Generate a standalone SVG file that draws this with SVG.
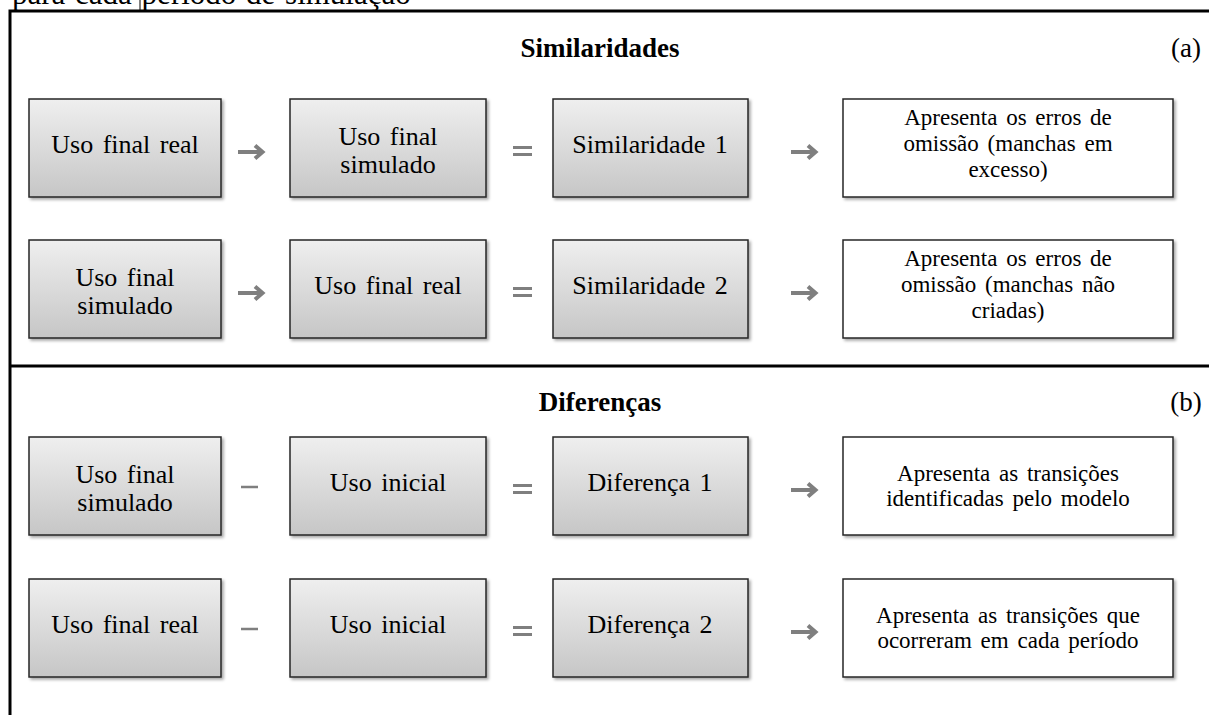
<svg xmlns="http://www.w3.org/2000/svg" width="1209" height="715" viewBox="0 0 1209 715">
<style>
.t{font-family:"Liberation Serif","Times New Roman",serif;fill:#000;text-anchor:middle}
.g{font-size:26px;word-spacing:3px}
.w{font-size:23px;word-spacing:3px}
.h{font-size:27px;font-weight:bold}
.p{font-size:27px}
.frame{stroke:#000;stroke-width:3;fill:none}
.gray{fill:url(#grad);stroke:#262626;stroke-width:1.5;filter:url(#sh)}
.white{fill:#fff;stroke:#262626;stroke-width:1.5;filter:url(#sh)}
.op{stroke:#7f7f7f;fill:none}
</style>
<defs>
<linearGradient id="grad" x1="0" y1="0" x2="0" y2="1">
<stop offset="0" stop-color="#efefef"/>
<stop offset="1" stop-color="#c6c6c6"/>
</linearGradient>
<filter id="sh" x="-10%" y="-10%" width="130%" height="130%">
<feDropShadow dx="2" dy="2" stdDeviation="1.5" flood-color="#000" flood-opacity="0.35"/>
</filter>
</defs>
<rect width="1209" height="715" fill="#fff"/>
<text class="t" x="12" y="4" style="text-anchor:start;font-size:31px;word-spacing:2px">para cada período de simulação</text>
<line x1="140" y1="0" x2="140" y2="10" stroke="#000" stroke-width="1"/>
<g id="frame">
<polyline class="frame" points="10,715 10,11 1209,11"/>
<line class="frame" x1="10" y1="366" x2="1209" y2="366"/>
</g>
<g id="title-a"><text class="t h" x="600" y="57">Similaridades</text><text class="t p" x="1186" y="57">(a)</text></g>
<g id="title-b"><text class="t h" x="600" y="411">Diferenças</text><text class="t p" x="1186" y="411">(b)</text></g>

<g id="r1-a"><rect class="gray" x="29" y="99" width="192" height="98"/><text class="t g" x="125" y="153">Uso final real</text></g>
<g id="r1-b"><rect class="gray" x="290" y="99" width="196" height="98"/><text class="t g" x="388" y="145">Uso final</text><text class="t g" x="388" y="173">simulado</text></g>
<g id="r1-c"><rect class="gray" x="553" y="99" width="195" height="98"/><text class="t g" x="650" y="153">Similaridade 1</text></g>
<g id="r1-d"><rect class="white" x="843" y="99" width="330" height="98"/><text class="t w" x="1008" y="125">Apresenta os erros de</text><text class="t w" x="1008" y="151">omissão (manchas em</text><text class="t w" x="1008" y="177">excesso)</text></g>

<g id="r2-a"><rect class="gray" x="29" y="240" width="192" height="98"/><text class="t g" x="125" y="286">Uso final</text><text class="t g" x="125" y="314">simulado</text></g>
<g id="r2-b"><rect class="gray" x="290" y="240" width="196" height="98"/><text class="t g" x="388" y="294">Uso final real</text></g>
<g id="r2-c"><rect class="gray" x="553" y="240" width="195" height="98"/><text class="t g" x="650" y="294">Similaridade 2</text></g>
<g id="r2-d"><rect class="white" x="843" y="240" width="330" height="98"/><text class="t w" x="1008" y="266">Apresenta os erros de</text><text class="t w" x="1008" y="292">omissão (manchas não</text><text class="t w" x="1008" y="318">criadas)</text></g>

<g id="r3-a"><rect class="gray" x="29" y="437" width="192" height="98"/><text class="t g" x="125" y="483">Uso final</text><text class="t g" x="125" y="511">simulado</text></g>
<g id="r3-b"><rect class="gray" x="290" y="437" width="196" height="98"/><text class="t g" x="388" y="491">Uso inicial</text></g>
<g id="r3-c"><rect class="gray" x="553" y="437" width="195" height="98"/><text class="t g" x="650" y="491">Diferença 1</text></g>
<g id="r3-d"><rect class="white" x="843" y="437" width="330" height="98"/><text class="t w" x="1008" y="481">Apresenta as transições</text><text class="t w" x="1008" y="506">identificadas pelo modelo</text></g>

<g id="r4-a"><rect class="gray" x="29" y="579" width="192" height="98"/><text class="t g" x="125" y="633">Uso final real</text></g>
<g id="r4-b"><rect class="gray" x="290" y="579" width="196" height="98"/><text class="t g" x="388" y="633">Uso inicial</text></g>
<g id="r4-c"><rect class="gray" x="553" y="579" width="195" height="98"/><text class="t g" x="650" y="633">Diferença 2</text></g>
<g id="r4-d"><rect class="white" x="843" y="579" width="330" height="98"/><text class="t w" x="1008" y="623">Apresenta as transições que</text><text class="t w" x="1008" y="648">ocorreram em cada período</text></g>

<g id="connectors">
<g class="op" stroke-width="4">
<path d="M238 152H262M255 145.5L262.5 152L255 158.5"/>
<path d="M791 152H815M808 145.5L815.5 152L808 158.5"/>
<path d="M238 293H262M255 286.5L262.5 293L255 299.5"/>
<path d="M791 293H815M808 286.5L815.5 293L808 299.5"/>
<path d="M791 490H815M808 483.5L815.5 490L808 496.5"/>
<path d="M791 632H815M808 625.5L815.5 632L808 638.5"/>
</g>
<g class="op" stroke-width="3">
<path d="M513 147.5H532M513 154.5H532"/>
<path d="M513 288.5H532M513 295.5H532"/>
<path d="M513 485.5H532M513 492.5H532"/>
<path d="M513 627.5H532M513 634.5H532"/>
</g>
<g class="op" stroke-width="2.5">
<path d="M241 487H258"/>
<path d="M241 629H258"/>
</g>
</g>
</svg>
